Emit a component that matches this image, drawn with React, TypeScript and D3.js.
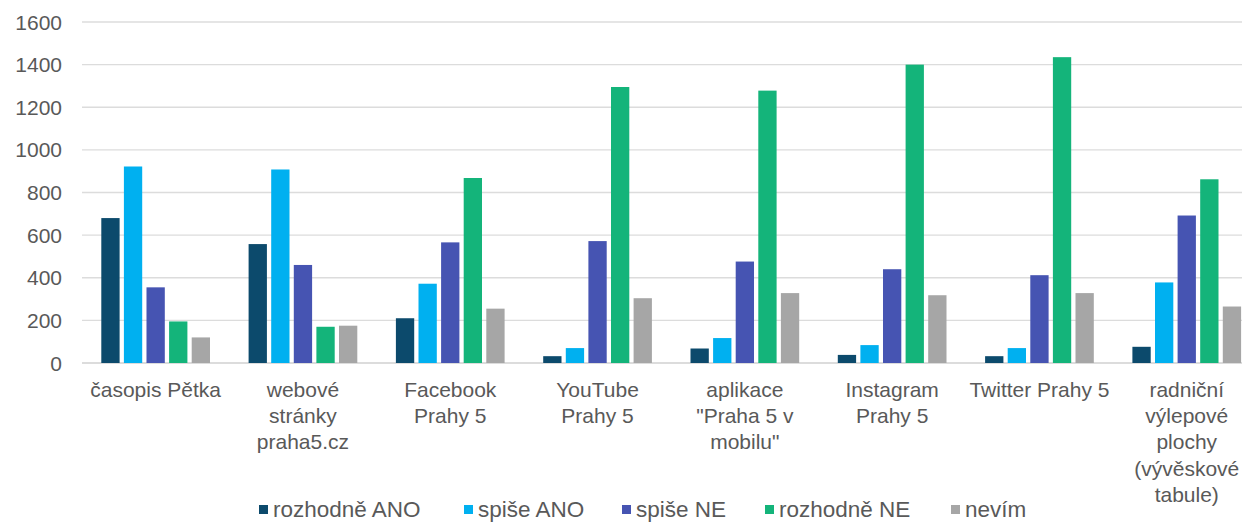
import React from "react";
import * as d3 from "d3";

const categories: string[][] = [
  ["časopis Pětka"],
  ["webové", "stránky", "praha5.cz"],
  ["Facebook", "Prahy 5"],
  ["YouTube", "Prahy 5"],
  ["aplikace", "\"Praha 5 v", "mobilu\""],
  ["Instagram", "Prahy 5"],
  ["Twitter Prahy 5"],
  ["radniční", "výlepové", "plochy", "(vývěskové", "tabule)"],
];

const seriesNames = ["rozhodně ANO", "spiše ANO", "spiše NE", "rozhodně NE", "nevím"];
const seriesColors = ["#0C4A6C", "#00B0F0", "#4654B2", "#14B47A", "#A6A6A6"];

const rozhodneAno = [680, 558, 210, 32, 68, 38, 32, 76];
const spiseAno = [922, 908, 372, 70, 117, 84, 70, 378];
const spiseNe = [355, 460, 566, 572, 476, 440, 412, 692];
const rozhodneNe = [195, 170, 868, 1295, 1278, 1400, 1435, 862];
const nevim = [120, 175, 255, 304, 328, 318, 328, 265];

const seriesValues = [rozhodneAno, spiseAno, spiseNe, rozhodneNe, nevim];

const yTicks = [0, 200, 400, 600, 800, 1000, 1200, 1400, 1600];

const legendX = [259, 464, 622, 765, 951];

const W = 1254;
const H = 523;
const FONT = "'Liberation Sans', Arial, sans-serif";
const TEXT = "#595959";

export default function App() {
  const catKeys = categories.map((c, i) => String(i));
  const x0 = d3.scaleBand<string>().domain(catKeys).range([82, 82 + 8 * 147.3]).padding(0);
  const groupW = 108.7;
  const x1 = d3
    .scaleBand<string>()
    .domain(seriesNames)
    .range([0, groupW])
    .paddingInner(0.19)
    .paddingOuter(0);
  const y = d3.scaleLinear().domain([0, 1600]).range([363, 22]);
  const gridRight = 1242;

  return (
    <svg
      width={W}
      height={H}
      style={{ position: "absolute", left: 0, top: 0, background: "#fff" }}
      fontFamily={FONT}
    >
      <rect x={0} y={0} width={W} height={H} fill="#fff" />
      {yTicks.map((t) => (
        <g key={t}>
          <line x1={82} x2={gridRight} y1={y(t)} y2={y(t)} stroke={t === 0 ? "#D0D0D0" : "#DCDCDC"} strokeWidth={1.3} />
          <text x={62} y={y(t)} dy="0.36em" textAnchor="end" fontSize={21} fill={TEXT}>
            {t}
          </text>
        </g>
      ))}
      {catKeys.map((k, ci) => {
        const gx = (x0(k) as number) + (x0.bandwidth() - groupW) / 2;
        return (
          <g key={k}>
            {seriesNames.map((s, si) => {
              const v = seriesValues[si][ci];
              return (
                <rect
                  key={s}
                  x={gx + (x1(s) as number)}
                  y={y(v)}
                  width={x1.bandwidth()}
                  height={y(0) - y(v)}
                  fill={seriesColors[si]}
                />
              );
            })}
            <text
              x={(x0(k) as number) + x0.bandwidth() / 2}
              y={397}
              textAnchor="middle"
              fontSize={21}
              fill={TEXT}
            >
              {categories[ci].map((line, li) => (
                <tspan key={li} x={(x0(k) as number) + x0.bandwidth() / 2} dy={li === 0 ? 0 : 26.2}>
                  {line}
                </tspan>
              ))}
            </text>
          </g>
        );
      })}
      {seriesNames.map((s, si) => (
        <g key={s}>
          <rect x={legendX[si]} y={505} width={9} height={9} fill={seriesColors[si]} />
          <text x={legendX[si] + 14} y={516.5} fontSize={22.5} fill={TEXT}>
            {s}
          </text>
        </g>
      ))}
    </svg>
  );
}
